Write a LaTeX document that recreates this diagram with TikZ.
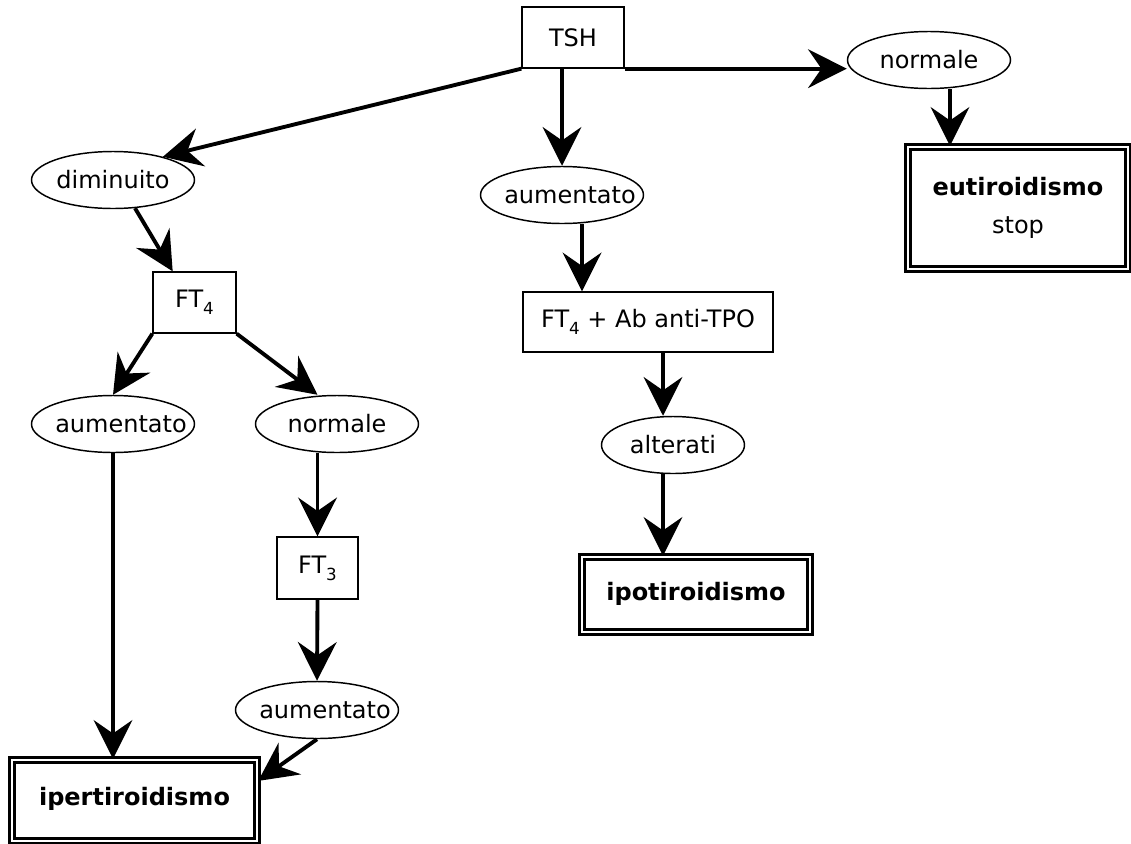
\documentclass[tikz,border=0pt]{standalone}
\usepackage{fontspec}
\setmainfont{DejaVu Sans}
\usetikzlibrary{shapes.geometric,arrows.meta,calc}
\def\u{0.75pt}
\newcommand\lowsub[1]{\raisebox{-0.55ex}{\fontsize{12.5}{12.5}\selectfont #1}}
\tikzset{
  box/.style={draw, line width=1pt, rectangle, inner sep=0pt, font=\fontsize{18}{22}\selectfont},
  oval/.style={draw, line width=1.1pt, ellipse, inner sep=0pt, minimum width=163*\u, minimum height=57*\u},
  txt/.style={font=\fontsize{18}{22}\selectfont},
  final/.style={draw, double, line width=1.8pt, double distance=2.2pt, rectangle, inner sep=0pt},
  arr/.style={line width=2.9pt, -{Stealth[length=29pt, width=29pt, inset=10pt]}},
}
\begin{document}
\begin{tikzpicture}[x=0.75pt, y=-0.75pt]
\useasboundingbox (0,0) rectangle (1131,843);
% nodes
\node[box, minimum width=102*\u, minimum height=61*\u] (tsh) at (573,37.5) {TSH};
\node[oval, label={[txt]center:normale}] (norm1) at (929,60) {};
\node[oval, label={[txt]center:diminuito}] (dim) at (113,180) {};
\node[oval, label={[txt, xshift=6pt]center:aumentato}] (aum1) at (562,195) {};
\node[final, minimum width=220*\u, minimum height=122*\u, align=center,
      font=\fontsize{18}{28}\selectfont] (eut) at (1018,208)
  {\textbf{eutiroidismo}\\stop};
\node[box, minimum width=83*\u, minimum height=61*\u] (ft4) at (194.5,302.5) {FT\lowsub{4}};
\node[box, minimum width=250*\u, minimum height=60*\u] (ftab) at (648,322) {FT\lowsub{4} + Ab anti-TPO};
\node[oval, label={[txt, xshift=6pt]center:aumentato}] (aumL) at (113,424) {};
\node[oval, label={[txt]center:normale}] (normM) at (337,424) {};
\node[oval, minimum width=143*\u, label={[txt]center:alterati}] (alt) at (673,445) {};
\node[box, minimum width=81*\u, minimum height=62*\u] (ft3) at (317.5,568) {FT\lowsub{3}};
\node[final, minimum width=228*\u, minimum height=75*\u] (ipo) at (696,594.5)
  {\raisebox{4pt}{\fontsize{18}{22}\selectfont\bfseries ipotiroidismo}};
\node[oval, label={[txt, xshift=6pt]center:aumentato}] (aumB) at (317,710) {};
\node[final, minimum width=245*\u, minimum height=81*\u] (iper) at (134.5,800.5)
  {\raisebox{6pt}{\fontsize{18}{22}\selectfont\bfseries ipertiroidismo}};
\coordinate (c1) at (950,0);
\coordinate (c2) at (582,0);
\coordinate (c3) at (663,0);
% connectors
\draw[arr] (tsh.south west) -- (dim.25);
\draw[arr] (tsh.south -| aum1.north) -- (aum1.north);
\draw[arr] (tsh.south east) -- (tsh.south east -| norm1.west);
\draw[arr] (norm1.south -| c1) -- (eut.north -| c1);
\draw[arr] (dim.-52) -- (ft4.125);
\draw[arr] (ft4.south west) -- (aumL.north);
\draw[arr] (ft4.south east) -- (normM.north -| ft3.north);
\draw[arr] (aumL.south) -- (aumL.south |- iper.north);
\draw[arr] (normM.south -| ft3.north) -- (ft3.north);
\draw[arr] (ft3.south) -- (aumB.north);
\draw[arr] (aumB.south) -- (iper.9);
\draw[arr] (aum1.south -| c2) -- (ftab.north -| c2);
\draw[arr] (ftab.south -| c3) -- (alt.north -| c3);
\draw[arr] (alt.south -| c3) -- (ipo.north -| c3);
\end{tikzpicture}
\end{document}
